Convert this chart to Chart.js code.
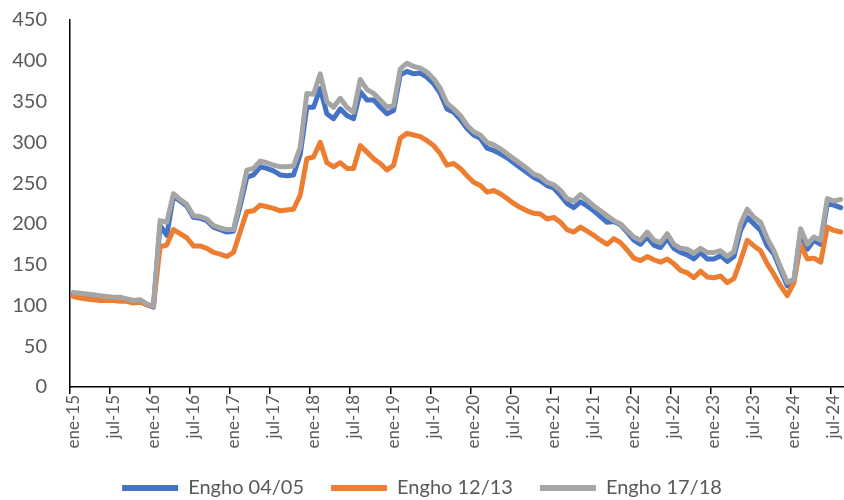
<!DOCTYPE html>
<html>
<head>
<meta charset="utf-8">
<script src="https://cdn.jsdelivr.net/npm/chart.js@4/dist/chart.umd.min.js"></script>
<style>
  html, body { margin: 0; padding: 0; background: #fff; overflow: hidden; }
  #wrap { width: 844px; height: 500px; }
</style>
</head>
<body>
<div id="wrap"><canvas id="indexChart" width="844" height="500"></canvas></div>
<script>
// month names and years used for the category labels (ene-15 ... ago-24)
const months = ["ene", "feb", "mar", "abr", "may", "jun", "jul", "ago", "sep", "oct", "nov", "dic"];
const years = ["15", "16", "17", "18", "19", "20", "21", "22", "23", "24"];
const lastMonth = 8; // ago-24

const labels = [];
years.forEach((y, yi) => {
    months.forEach((m, mi) => {
        if (yi === years.length - 1 && mi >= lastMonth) return;
        labels.push(m + "-" + y);
    });
});

// Engho 04/05
const engho0405 = [
    115, 114, 113, 112, 111, 110, 109, 109, 107, 106, 106, 101,
    98, 198, 186, 234, 228, 222, 208, 207, 204, 196, 193, 190,
    191, 222, 257, 260, 270, 268, 265, 260, 259, 260, 285, 343,
    343, 366, 335, 329, 341, 333, 329, 362, 352, 352, 343, 335,
    339, 383, 387, 384, 385, 380, 372, 360, 341, 337, 328, 317,
    309, 305, 293, 290, 286, 281, 275, 269, 263, 257, 253, 247,
    244, 235, 225, 220, 227, 222, 216, 209, 202, 203, 199, 190,
    180, 175, 184, 174, 171, 182, 170, 165, 162, 157, 165, 157,
    157, 161, 154, 160, 192, 208, 200, 192, 173, 163, 143, 124,
    130, 190, 169, 180, 175, 225, 223, 220
];

// Engho 12/13
const engho1213 = [
    111, 109, 108, 107, 106, 106, 106, 105, 105, 103, 104, 101,
    99, 172, 174, 193, 188, 183, 173, 173, 170, 165, 163, 160,
    165, 190, 215, 216, 223, 221, 219, 216, 217, 218, 235, 280,
    282, 300, 275, 270, 275, 268, 268, 296, 288, 280, 274, 266,
    272, 305, 311, 309, 307, 302, 296, 286, 272, 274, 268, 259,
    251, 247, 239, 241, 237, 231, 225, 220, 216, 213, 212, 206,
    208, 202, 193, 190, 196, 191, 186, 180, 175, 182, 177, 168,
    158, 155, 160, 156, 153, 157, 151, 143, 140, 134, 142, 135,
    134, 136, 128, 133, 155, 180, 173, 167, 151, 138, 124, 112,
    128, 175, 157, 158, 153, 196, 192, 190
];

// Engho 17/18
const engho1718 = [
    116, 115, 114, 113, 112, 111, 110, 110, 108, 106, 107, 102,
    99, 204, 202, 237, 230, 224, 210, 209, 206, 198, 195, 193,
    193, 228, 266, 268, 277, 275, 272, 270, 270, 271, 294, 360,
    359, 384, 350, 343, 354, 343, 337, 377, 365, 360, 352, 343,
    345, 390, 397, 393, 391, 386, 378, 366, 348, 341, 333, 321,
    313, 309, 300, 297, 292, 286, 280, 274, 268, 261, 258, 251,
    248, 241, 231, 228, 236, 229, 222, 216, 210, 204, 200, 192,
    184, 180, 190, 180, 177, 188, 175, 170, 169, 164, 170, 165,
    165, 167, 160, 166, 200, 218, 208, 202, 182, 167, 147, 128,
    132, 194, 175, 184, 180, 231, 228, 230
];

const yTicks = [0, 50, 100, 150, 200, 250, 300, 350, 400, 450];

const textColor = "#595959";
const fontFamily = "Lato, 'Open Sans', sans-serif";

function lineSet(label, data, color, order) {
    return {
        label: label,
        data: data,
        borderColor: color,
        backgroundColor: color,
        borderWidth: 5,
        pointRadius: 0,
        tension: 0,
        borderJoinStyle: "round",
        borderCapStyle: "round",
        order: order
    };
}

const chart = new Chart(document.getElementById("indexChart"), {
    type: "line",
    data: {
        labels: labels,
        datasets: [
            lineSet("Engho 04/05", engho0405, "#4472C4", 3),
            lineSet("Engho 12/13", engho1213, "#ED7D31", 2),
            lineSet("Engho 17/18", engho1718, "#A5A5A5", 1)
        ]
    },
    options: {
        responsive: false,
        animation: false,
        devicePixelRatio: 1,
        // negative bottom padding pushes the legend down towards the edge
        layout: { padding: { top: 20, right: 0, left: 0, bottom: -8 } },
        plugins: {
            tooltip: { enabled: false },
            legend: {
                position: "bottom",
                labels: {
                    color: textColor,
                    font: { family: fontFamily, size: 20 },
                    boxWidth: 56,
                    boxHeight: 6,
                    padding: 27,
                    useBorderRadius: true,
                    borderRadius: 3,
                    sort: (a, b) => a.datasetIndex - b.datasetIndex,
                    generateLabels: function (c) {
                        return c.data.datasets.map((ds, i) => ({
                            text: ds.label,
                            fillStyle: ds.borderColor,
                            strokeStyle: ds.borderColor,
                            lineWidth: 0,
                            fontColor: textColor,
                            datasetIndex: i
                        }));
                    }
                }
            }
        },
        scales: {
            x: {
                offset: true,
                grid: {
                    offset: true,
                    drawOnChartArea: false,
                    tickLength: 7,
                    lineWidth: 1.5,
                    color: ctx => (ctx.index % 6 === 0 ? "#000" : "rgba(0,0,0,0)")
                },
                border: { display: true, color: "#000", width: 1.5 },
                ticks: {
                    autoSkip: false,
                    minRotation: 90,
                    maxRotation: 90,
                    padding: 1,
                    color: textColor,
                    font: { family: fontFamily, size: 17 },
                    callback: function (value, index) {
                        return index % 6 === 0 ? labels[index] : "";
                    }
                },
                afterFit: scale => {
                    scale.height = 64;
                    scale.paddingLeft = 0;
                    scale.paddingRight = 0;
                }
            },
            y: {
                min: 0,
                max: 450,
                grid: { display: false },
                border: { display: true, color: "#000", width: 1.5 },
                afterBuildTicks: scale => {
                    scale.ticks = yTicks.map(v => ({ value: v }));
                },
                ticks: {
                    padding: 15,
                    color: textColor,
                    font: { family: fontFamily, size: 20 }
                },
                afterFit: scale => {
                    scale.width = 70;
                    scale.paddingTop = 0;
                    scale.paddingBottom = 0;
                }
            }
        }
    }
});
</script>
</body>
</html>
